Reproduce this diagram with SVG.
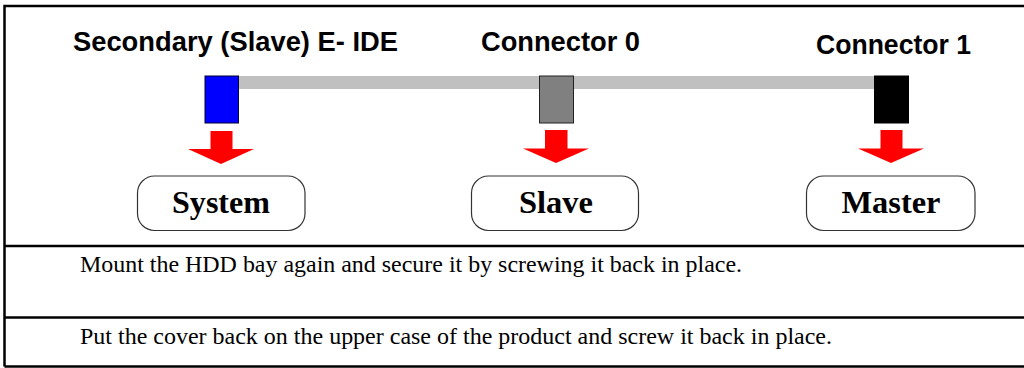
<svg xmlns="http://www.w3.org/2000/svg" width="1024" height="368" viewBox="0 0 1024 368">
  <style>
    .lbl { font-family: "Liberation Sans", Arial, sans-serif; font-weight: bold; font-size: 27px; fill: #000; }
    .box { fill: #fff; stroke: #333; stroke-width: 1.2; }
    .boxt { font-family: "Liberation Serif", "Times New Roman", serif; font-weight: bold; font-size: 32px; fill: #000; text-anchor: middle; }
    .body { font-family: "Liberation Serif", "Times New Roman", serif; font-size: 23px; fill: #000; }
    .rule { stroke: #000; stroke-width: 2.5; fill: none; }
    .arrow { fill: #ff0000; }
  </style>
  <rect x="0" y="0" width="1024" height="368" fill="#fff"/>
  <g id="frame">
    <path class="rule" d="M4.5,366.5 V6 H1024 M4.5,246 H1024 M4.5,317.5 H1024 M4.5,366.5 H1024"/>
  </g>
  <g id="connectors">
    <rect x="238" y="76" width="637" height="13" fill="#c0c0c0"/>
    <polygon class="arrow" points="210.5,131 232.5,131 232.5,149 254,149 221,164 188,149 210.5,149"/>
    <polygon class="arrow" points="545,130 567.5,130 567.5,148.5 589,148.5 556,163 523,148.5 545,148.5"/>
    <polygon class="arrow" points="880.5,130 902.5,130 902.5,148.5 924,148.5 891,163 858,148.5 880.5,148.5"/>
  </g>
  <g id="secondary-ide">
    <text class="lbl" x="73" y="51" textLength="325" lengthAdjust="spacingAndGlyphs">Secondary (Slave) E- IDE</text>
    <rect x="205" y="76" width="33.5" height="47" fill="#0000ff" stroke="#000033" stroke-width="1"/>
  </g>
  <g id="connector-0">
    <text class="lbl" x="481" y="51" textLength="159" lengthAdjust="spacingAndGlyphs">Connector 0</text>
    <rect x="539.5" y="76" width="34" height="47" fill="#808080" stroke="#222" stroke-width="1"/>
  </g>
  <g id="connector-1">
    <text class="lbl" x="816" y="54" textLength="155" lengthAdjust="spacingAndGlyphs">Connector 1</text>
    <rect x="874.5" y="76" width="34" height="47" fill="#000" stroke="#000" stroke-width="1"/>
  </g>
  <g id="system">
    <rect class="box" x="137.5" y="176" width="167.5" height="54.5" rx="17"/>
    <text class="boxt" x="221" y="213" textLength="98" lengthAdjust="spacingAndGlyphs">System</text>
  </g>
  <g id="slave">
    <rect class="box" x="471.5" y="176" width="167" height="54.5" rx="17"/>
    <text class="boxt" x="556" y="213" textLength="74" lengthAdjust="spacingAndGlyphs">Slave</text>
  </g>
  <g id="master">
    <rect class="box" x="806.5" y="176" width="168.5" height="54.5" rx="17"/>
    <text class="boxt" x="891" y="213" textLength="99" lengthAdjust="spacingAndGlyphs">Master</text>
  </g>
  <g id="step-1">
    <text class="body" x="80" y="272" textLength="662" lengthAdjust="spacingAndGlyphs">Mount the HDD bay again and secure it by screwing it back in place.</text>
  </g>
  <g id="step-2">
    <text class="body" x="80" y="344" textLength="752" lengthAdjust="spacingAndGlyphs">Put the cover back on the upper case of the product and screw it back in place.</text>
  </g>
</svg>
